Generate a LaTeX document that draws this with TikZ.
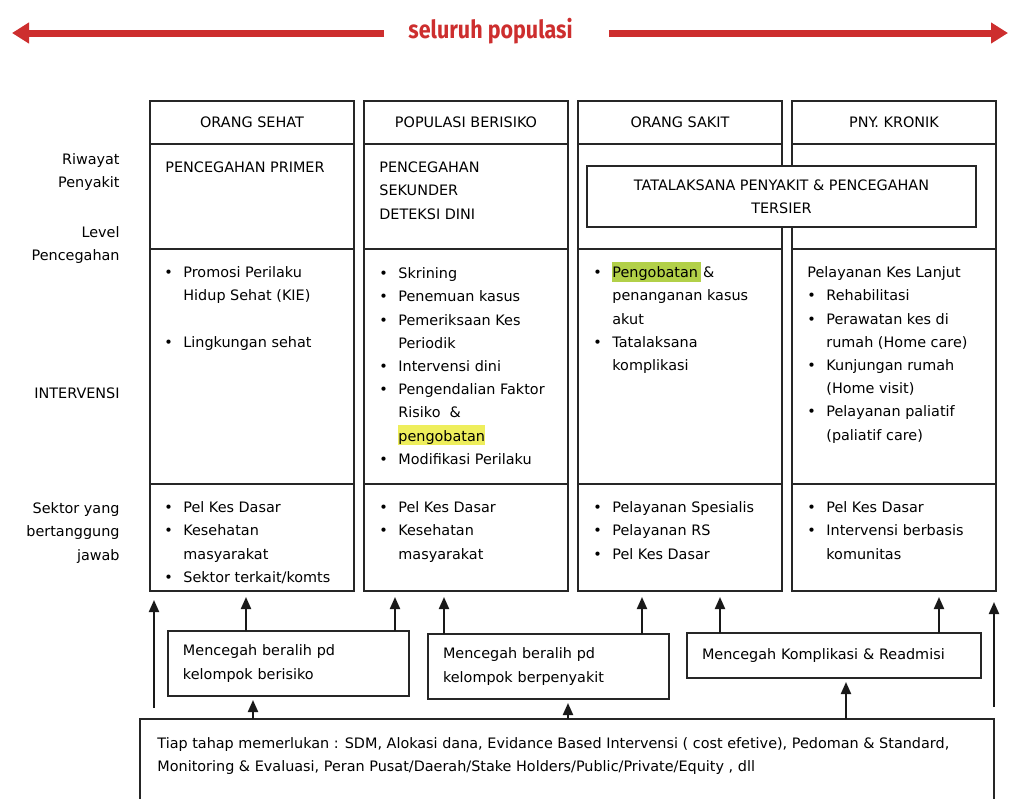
\documentclass[tikz,border=0pt]{standalone}
\usepackage{fontspec}
\setmainfont{DejaVu Sans}
\newfontfamily\titlefont{Fira Sans}[FakeStretch=0.86]
\usetikzlibrary{arrows.meta}
\definecolor{popred}{RGB}{205,46,46}
\definecolor{hlyel}{RGB}{238,238,92}
\definecolor{hlgrn}{RGB}{178,208,72}
\newcommand\bi{\makebox[9.5pt][l]{\textbullet}}
\newcommand\bn{\hspace*{9.5pt}}
\newcommand\hl[2]{{\setlength{\fboxsep}{0pt}\colorbox{#1}{\rule[-2pt]{0pt}{10pt}#2}}}
\tikzset{
  cell/.style={draw=black!85, line width=0.8pt, minimum width=102pt, inner sep=0pt, outer sep=0pt},
  txt/.style={anchor=north west, inner sep=0pt, align=left},
  lbl/.style={anchor=north east, inner sep=0pt, align=right},
  mbox/.style={draw=black!85, line width=0.8pt, inner xsep=7.5pt, inner ysep=0pt, outer sep=0pt, align=left, minimum height=32.5pt},
  up/.style={-{Triangle[length=6pt,width=5pt]}, line width=1pt, black!90, shorten >=3pt},
  pop/.style={-{Triangle[length=8.5pt,width=10pt]}, line width=3.5pt, popred}
}
\begin{document}
\begin{tikzpicture}[x=0.5pt,y=-0.5pt,font=\fontsize{7.2pt}{11.6pt}\selectfont]
\useasboundingbox (0,0) rectangle (1009,799);
% seluruh populasi
\node[inner sep=0pt, anchor=base, text=popred, font=\titlefont\bfseries\fontsize{12.5pt}{14pt}\selectfont] (ttl) at (490.5,38) {seluruh populasi};
\coordinate (aL) at (12,33);
\coordinate (aR) at (1008,33);
\draw[pop] ([xshift=-12pt]ttl.west |- aL) -- (aL);
\draw[pop] ([xshift=18pt]ttl.east |- aR) -- (aR);
% kolom
\foreach \c/\hd [count=\i] in {252/ORANG SEHAT, 466/POPULASI BERISIKO, 680/ORANG SAKIT, 894/PNY. KRONIK}{
  \node[cell, minimum height=21.5pt] (h\i) at (\c,122.5) {\raisebox{-1.5pt}{\hd}};
  \node[cell, minimum height=52.5pt] (p\i) at (\c,196.5) {};
  \node[cell, minimum height=117.5pt] (iv\i) at (\c,366.5) {};
  \node[cell, minimum height=53.5pt] (s\i) at (\c,537.5) {};
}
\node[cell, fill=white, minimum width=194.5pt, minimum height=30.5pt, align=center] (tt) at (781.5,196.5) {TATALAKSANA PENYAKIT \& PENCEGAHAN\\TERSIER};
% label kiri
\node[lbl] (rp) at (120,148) {\strut Riwayat\\Penyakit};
\node[lbl] (lp) at (120,221) {\strut Level\\Pencegahan};
\node[lbl] (ivl) at (120,382) {\strut INTERVENSI};
\node[lbl] (skl) at (120,497) {\strut Sektor yang\\bertanggung\\jawab};
% level pencegahan
\node[txt] (p1t) at (165,156) {\strut PENCEGAHAN PRIMER};
\node[txt] (p2t) at (379,156) {\strut PENCEGAHAN\\SEKUNDER\\DETEKSI DINI};
% intervensi
\node[txt] (iv1t) at (164,261) {\strut\bi Promosi Perilaku\\\bn Hidup Sehat (KIE)\\[11.6pt]\bi Lingkungan sehat};
\node[txt] (iv2t) at (379,262) {\strut\bi Skrining\\\bi Penemuan kasus\\\bi Pemeriksaan Kes\\\bn Periodik\\\bi Intervensi dini\\\bi Pengendalian Faktor\\\bn Risiko~ \&\\\bn\hl{hlyel}{pengobatan}\\\bi Modifikasi Perilaku};
\node[txt] (iv3t) at (593,261) {\strut\bi\hl{hlgrn}{Pengobatan\hspace{1.5pt}}\hspace{1pt}\&\\\bn penanganan kasus\\\bn akut\\\bi Tatalaksana\\\bn komplikasi};
\node[txt] (iv4t) at (807,261) {\strut Pelayanan Kes Lanjut\\\bi Rehabilitasi\\\bi Perawatan kes di\\\bn rumah (Home care)\\\bi Kunjungan rumah\\\bn (Home visit)\\\bi Pelayanan paliatif\\\bn (paliatif care)};
% sektor
\node[txt] (s1t) at (164,496) {\strut\bi Pel Kes Dasar\\\bi Kesehatan\\\bn masyarakat\\\bi Sektor terkait/komts};
\node[txt] (s2t) at (379,496) {\strut\bi Pel Kes Dasar\\\bi Kesehatan\\\bn masyarakat};
\node[txt] (s3t) at (593,496) {\strut\bi Pelayanan Spesialis\\\bi Pelayanan RS\\\bi Pel Kes Dasar};
\node[txt] (s4t) at (807,496) {\strut\bi Pel Kes Dasar\\\bi Intervensi berbasis\\\bn komunitas};
% mencegah
\node[mbox, text width=105.5pt] (mA) at (288.5,663.5) {Mencegah beralih pd\\kelompok berisiko};
\node[mbox, text width=105.5pt] (mB) at (548.5,666.5) {Mencegah beralih pd\\kelompok berpenyakit};
\node[mbox, text width=132pt, minimum height=22.5pt] (mC) at (834,655.5) {Mencegah Komplikasi \& Readmisi};
% tiap tahap
\node[draw=black!85, line width=0.8pt, minimum width=427pt, minimum height=51pt, inner sep=0pt, outer sep=0pt] (bt) at (567,770) {};
\node[txt] (btt) at (157,732) {\strut Tiap tahap memerlukan : SDM, Alokasi dana, Evidance Based Intervensi ( cost efetive), Pedoman \& Standard,\\Monitoring \& Evaluasi, Peran Pusat/Daerah/Stake Holders/Public/Private/Equity , dll};
% panah
\coordinate (lb) at (154,708);
\coordinate (lt) at (154,600);
\coordinate (rb) at (994,707);
\coordinate (rt) at (994,602);
\draw[up, shorten >=0pt] (lb) -- (lt);
\draw[up, shorten >=0pt] (rb) -- (rt);
\draw[up] (mA.north -| 246,0) -- (s1.south -| 246,0);
\draw[up] (mA.north -| 395,0) -- (s2.south -| 395,0);
\draw[up] (mB.north -| 444,0) -- (s2.south -| 444,0);
\draw[up] (mB.north -| 642,0) -- (s3.south -| 642,0);
\draw[up] (mC.north -| 720,0) -- (s3.south -| 720,0);
\draw[up] (mC.north -| 939,0) -- (s4.south -| 939,0);
\draw[up, shorten >=2pt] (bt.north -| 253,0) -- (mA.south -| 253,0);
\draw[up, shorten >=2pt] (bt.north -| 568,0) -- (mB.south -| 568,0);
\draw[up, shorten >=2pt] (bt.north -| 846,0) -- (mC.south -| 846,0);
\end{tikzpicture}
\end{document}
